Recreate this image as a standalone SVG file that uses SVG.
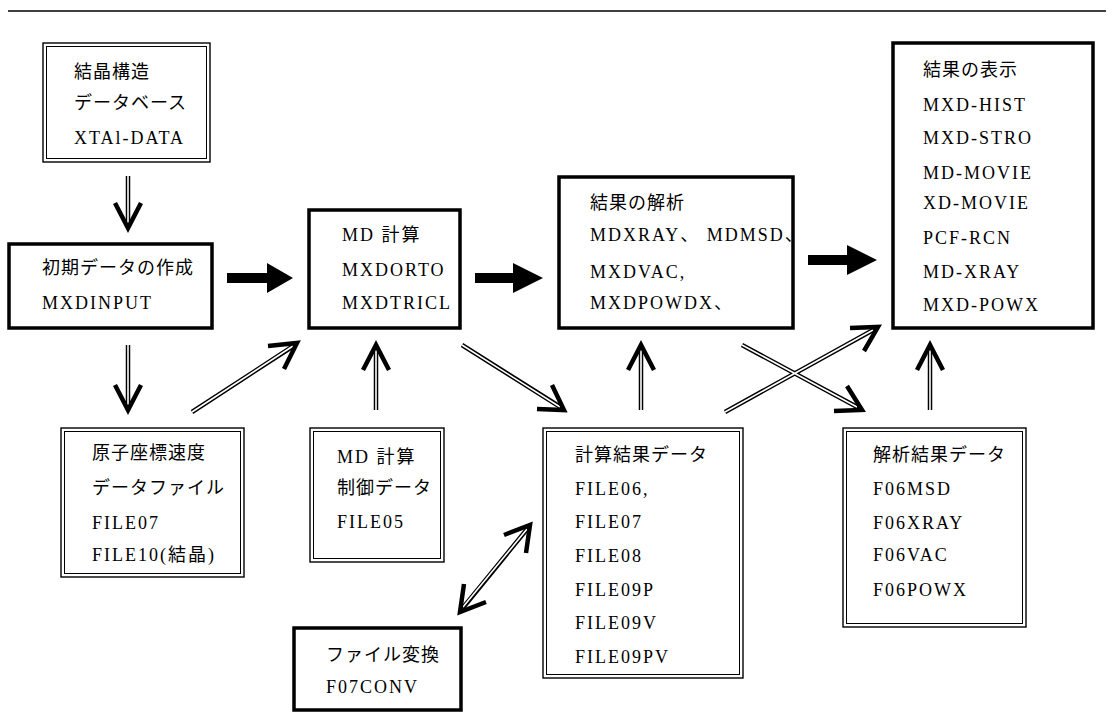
<svg xmlns="http://www.w3.org/2000/svg" width="1114" height="722" viewBox="0 0 1114 722">
<style>
text{font-family:"Liberation Serif","Noto Sans CJK JP",serif;font-size:18px;fill:#000}
.j{letter-spacing:1px}
.l{letter-spacing:2px}
.thick{fill:#fff;stroke:#000;stroke-width:3.5}
.dout{fill:#fff;stroke:#000;stroke-width:1.4}
.din{fill:none;stroke:#000;stroke-width:1}
.sh{fill:none;stroke:#000;stroke-width:4.5}
.shw{fill:none;stroke:#fff;stroke-width:1.6}
.hd{fill:none;stroke:#000;stroke-width:4.5;stroke-linejoin:miter;stroke-linecap:butt}
.solid{fill:#000}
</style>
<rect width="1114" height="722" fill="#fff"/>
<line x1="8" y1="11" x2="1106" y2="11" stroke="#000" stroke-width="1.5"/>

<g id="n-xtal">
<rect class="dout" x="43" y="43" width="167" height="119"/>
<rect class="din" x="46.5" y="46.5" width="160" height="112"/>
<text class="j" x="74" y="78">結晶構造</text>
<text class="j" x="74" y="109">データベース</text>
<text class="l" x="74" y="144">XTAl-DATA</text>
</g>

<g id="n-input">
<rect class="thick" x="9" y="244" width="203" height="84"/>
<text class="j" x="42" y="274">初期データの作成</text>
<text class="l" x="42" y="309">MXDINPUT</text>
</g>

<g id="n-md">
<rect class="thick" x="309" y="210" width="151" height="118"/>
<text class="l" x="342" y="241">MD 計算</text>
<text class="l" x="342" y="276">MXDORTO</text>
<text class="l" x="342" y="309">MXDTRICL</text>
</g>

<g id="n-analysis">
<rect class="thick" x="559" y="177" width="234" height="151"/>
<text class="j" x="590" y="209">結果の解析</text>
<text class="l" x="590" y="241">MDXRAY、 MDMSD、</text>
<text class="l" x="590" y="278">MXDVAC,</text>
<text class="l" x="590" y="309">MXDPOWDX、</text>
</g>

<g id="n-display">
<rect class="thick" x="893" y="43" width="200" height="285"/>
<text class="j" x="923" y="76">結果の表示</text>
<text class="l" x="923" y="111">MXD-HIST</text>
<text class="l" x="923" y="144">MXD-STRO</text>
<text class="l" x="923" y="179">MD-MOVIE</text>
<text class="l" x="923" y="209">XD-MOVIE</text>
<text class="l" x="923" y="244">PCF-RCN</text>
<text class="l" x="923" y="278">MD-XRAY</text>
<text class="l" x="923" y="311">MXD-POWX</text>
</g>

<g id="n-atom">
<rect class="dout" x="61" y="428" width="183" height="149"/>
<rect class="din" x="64.5" y="431.5" width="176" height="142"/>
<text class="j" x="92" y="459">原子座標速度</text>
<text class="j" x="92" y="494">データファイル</text>
<text class="l" x="92" y="529">FILE07</text>
<text class="l" x="92" y="561">FILE10(結晶)</text>
</g>

<g id="n-ctrl">
<rect class="dout" x="310" y="428" width="134" height="134"/>
<rect class="din" x="313.5" y="431.5" width="127" height="127"/>
<text class="l" x="337" y="463">MD 計算</text>
<text class="j" x="337" y="494">制御データ</text>
<text class="l" x="337" y="528">FILE05</text>
</g>

<g id="n-calc">
<rect class="dout" x="543" y="428" width="200" height="250"/>
<rect class="din" x="546.5" y="431.5" width="193" height="243"/>
<text class="j" x="575" y="461">計算結果データ</text>
<text class="l" x="575" y="495">FILE06,</text>
<text class="l" x="575" y="528">FILE07</text>
<text class="l" x="575" y="562">FILE08</text>
<text class="l" x="575" y="596">FILE09P</text>
<text class="l" x="575" y="629">FILE09V</text>
<text class="l" x="575" y="663">FILE09PV</text>
</g>

<g id="n-anres">
<rect class="dout" x="843" y="428" width="183" height="199"/>
<rect class="din" x="846.5" y="431.5" width="176" height="192"/>
<text class="j" x="873" y="461">解析結果データ</text>
<text class="l" x="873" y="495">F06MSD</text>
<text class="l" x="873" y="529">F06XRAY</text>
<text class="l" x="873" y="561">F06VAC</text>
<text class="l" x="873" y="596">F06POWX</text>
</g>

<g id="n-conv">
<rect class="thick" x="294" y="628" width="167" height="82"/>
<text class="j" x="326" y="661">ファイル変換</text>
<text class="l" x="326" y="693">F07CONV</text>
</g>

<g id="connectors">
<!-- solid thick arrows -->
<path class="solid" d="M227 273h40v-10l26 15-26 15v-10h-40z"/>
<path class="solid" d="M475 273h38v-10l30 15-30 15v-10h-38z"/>
<path class="solid" d="M808 255h39v-10l30 15-30 15v-10h-39z"/>

<!-- double-line shafts -->
<g>
<path class="sh" d="M128 176V226 M128 345V408 M376 410V348 M641 410V348 M930 410V348 M192 412L295 345 M462 345L562 408 M725 412L875 329 M742 345L859 408 M462 609L528 528"/>
<path class="shw" d="M128 176V224 M128 345V406 M376 410V350 M641 410V350 M930 410V350 M192 412L293 346 M462 345L560 407 M725 412L873 330 M742 345L857 407 M463 607L527 529"/>
</g>
<!-- chevron heads -->
<polyline class="hd" points="115,203 128,228 141,203"/>
<polyline class="hd" points="115,385 128,410 141,385"/>
<polyline class="hd" points="363,370 376,345 389,370"/>
<polyline class="hd" points="628,370 641,345 654,370"/>
<polyline class="hd" points="917,370 930,345 943,370"/>
<polyline class="hd" points="268,346 297,343 284,369"/>
<polyline class="hd" points="552,385 564,410 537,409"/>
<polyline class="hd" points="850,328 878,327 864,351"/>
<polyline class="hd" points="847,386 862,410 834,411"/>
<polyline class="hd" points="504,535 530,525 526,553"/>
<polyline class="hd" points="486,602 460,612 464,584"/>
</g>
</svg>
